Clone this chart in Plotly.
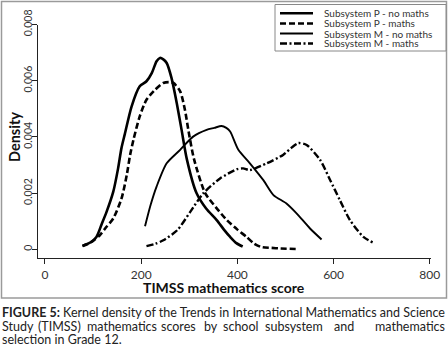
import plotly.graph_objects as go

# ---- data ----
p_nomaths_x = [78, 95, 107, 118, 128, 142, 152, 159, 166, 180, 197, 211, 222, 232, 239, 246, 253, 263, 274, 284, 295, 315, 335, 357, 372, 385, 398, 411]
p_nomaths_y = [0.00012, 0.00025, 0.00044, 0.0009, 0.00133, 0.00205, 0.00288, 0.0036, 0.0041, 0.00508, 0.0058, 0.00598, 0.00627, 0.00669, 0.00681, 0.00676, 0.00663, 0.0061, 0.0052, 0.00425, 0.0032, 0.002, 0.00145, 0.00104, 0.0007, 0.00044, 0.00022, 0.0001]

p_maths_x = [78, 90, 100, 114, 128, 142, 159, 170, 177, 184, 197, 211, 229, 246, 258, 267, 281, 291, 298, 310, 333, 355, 378, 400, 419, 435, 450, 470, 489, 523]
p_maths_y = [0.00012, 0.0002, 0.0003, 0.0005, 0.0008, 0.0011, 0.0018, 0.00264, 0.00336, 0.0039, 0.00473, 0.00532, 0.00568, 0.00592, 0.00595, 0.00592, 0.00562, 0.00496, 0.00425, 0.0032, 0.002, 0.0015, 0.00104, 0.0007, 0.00044, 0.0002, 0.00008, 0.00005, 0.00003, 0.00001]

m_nomaths_x = [208, 220, 232, 253, 281, 308, 336, 352, 367, 377, 385, 402, 426, 454, 475, 502, 523, 551, 575]
m_nomaths_y = [0.00082, 0.0016, 0.00223, 0.00306, 0.00354, 0.00401, 0.00425, 0.00432, 0.00439, 0.00432, 0.00419, 0.00354, 0.00306, 0.00246, 0.00193, 0.00163, 0.00128, 0.00074, 0.00035]

m_maths_x = [211, 230, 246, 275, 302, 329, 364, 399, 412, 426, 461, 495, 515, 527, 544, 572, 593, 613, 634, 662, 683]
m_maths_y = [0.00011, 0.0002, 0.00032, 0.00068, 0.00133, 0.00199, 0.00252, 0.00285, 0.00288, 0.00282, 0.00306, 0.00336, 0.00365, 0.00378, 0.00371, 0.00318, 0.00246, 0.00175, 0.00104, 0.00044, 0.00023]

series_names = ["Subsystem P - no maths", "Subsystem P - maths", "Subsystem M - no maths", "Subsystem M - maths"]
x_ticks = [0, 200, 400, 600, 800]
y_ticks = [0, 0.002, 0.004, 0.006, 0.008]
y_tick_text = ["0", "0.002", "0.004", "0.006", "0.008"]

W, H = 448, 347
def px(x):
    return x / W
def py(y):
    return 1 - y / H

styles = [
    dict(width=2.6, dash="solid"),
    dict(width=2.6, dash="6px,3px"),
    dict(width=1.9, dash="solid"),
    dict(width=2.4, dash="7px,2.5px,2px,2.5px"),
]
data = [(p_nomaths_x, p_nomaths_y), (p_maths_x, p_maths_y), (m_nomaths_x, m_nomaths_y), (m_maths_x, m_maths_y)]

fig = go.Figure()
for (xs, ys), name, st in zip(data, series_names, styles):
    fig.add_trace(go.Scatter(x=xs, y=ys, mode="lines", name=name, showlegend=False,
                             line=dict(color="black", width=st["width"], dash=st["dash"],
                                       shape="spline", smoothing=0.7)))

fig.update_layout(
    width=W, height=H,
    margin=dict(l=0, r=0, t=0, b=0),
    template="none",
    paper_bgcolor="white", plot_bgcolor="white",
    showlegend=False,
    xaxis=dict(domain=[38 / W, 431 / W], range=[-14.5, 802.5], showgrid=False, zeroline=False,
               showline=True, linecolor="#222", linewidth=1.2,
               tickmode="array", tickvals=x_ticks, ticks="outside", ticklen=5, tickcolor="#222",
               tickfont=dict(family="Lato", size=12, color="#333"), automargin=False),
    yaxis=dict(domain=[py(258), py(24.5)], range=[-0.00031, 0.008], showgrid=False, zeroline=False,
               showline=True, linecolor="#222", linewidth=1.2,
               tickmode="array", tickvals=y_ticks, ticktext=y_tick_text, ticks="outside", ticklen=5,
               tickcolor="#222", tickangle=-90, tickfont=dict(family="Lato", size=10.5, color="#333"),
               ticklabelstandoff=-4, automargin=False),
)

shapes = []
# outer frame
shapes.append(dict(type="rect", xref="paper", yref="paper", x0=px(1.5), x1=px(446.5), y0=py(298), y1=py(1.5),
                   line=dict(color="#9a9a9a", width=1.5), fillcolor="rgba(0,0,0,0)"))
# legend box
shapes.append(dict(type="rect", xref="paper", yref="paper", x0=px(275), x1=px(446), y0=py(51), y1=py(4.5),
                   line=dict(color="#888", width=1), fillcolor="white"))
rows = [13.3, 23.5, 33.5, 43.5]
anns = []
for r, name, st in zip(rows, series_names, styles):
    shapes.append(dict(type="line", xref="paper", yref="paper", x0=px(280), x1=px(313), y0=py(r), y1=py(r),
                       line=dict(color="black", width=st["width"], dash=st["dash"])))
    anns.append(dict(text=name, xref="paper", yref="paper", x=px(322), y=py(r), xanchor="left", yanchor="middle",
                     showarrow=False, font=dict(family="Lato", size=10, color="#333")))

# axis titles
anns.append(dict(text="<b>TIMSS mathematics score</b>", xref="paper", yref="paper", x=px(224), y=py(287),
                 xanchor="center", yanchor="middle", showarrow=False,
                 font=dict(family="Lato", size=14, color="#111")))
anns.append(dict(text="<b>Density</b>", xref="paper", yref="paper", x=px(14), y=py(137), textangle=-90,
                 xanchor="center", yanchor="middle", showarrow=False,
                 font=dict(family="Lato", size=14.5, color="#111")))

# caption
capfont = dict(family="Lato", size=12.5, color="#222")
anns.append(dict(text="<b>FIGURE 5:</b> Kernel density of the Trends in International Mathematics and Science",
                 xref="paper", yref="paper", x=px(0), y=py(312), xanchor="left", yanchor="middle",
                 showarrow=False, font=capfont))
# second caption line is justified in the reference: place words at their reference centres
line2_words = ["Study", "(TIMSS)", "mathematics", "scores", "by", "school", "subsystem", "and", "mathematics"]
line2_pos = [0, 59, 122, 178.5, 210.8, 240.8, 294.2, 344.2, 447]
line2_anchor = ["left"] + ["center"] * 7 + ["right"]
for w, p, a in zip(line2_words, line2_pos, line2_anchor):
    anns.append(dict(text=w, xref="paper", yref="paper", x=px(p), y=py(326), xanchor=a, yanchor="middle",
                     showarrow=False, font=capfont))
anns.append(dict(text="selection in Grade 12.", xref="paper", yref="paper", x=px(0), y=py(339.5),
                 xanchor="left", yanchor="middle", showarrow=False, font=capfont))

fig.update_layout(shapes=shapes, annotations=anns)
fig.write_html("out.html", config={"displayModeBar": False},
               post_script="document.body.style.margin='0px';document.body.style.overflow='hidden';")
